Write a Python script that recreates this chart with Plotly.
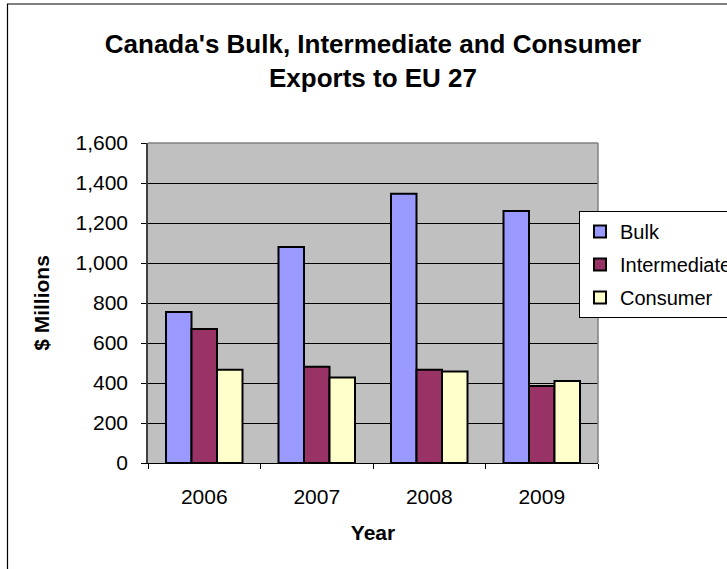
import plotly.graph_objects as go

years = ["2006", "2007", "2008", "2009"]
bulk = [755, 1080, 1346, 1260]
intermediate = [670, 481, 466, 385]
consumer = [466, 428, 458, 410]

series_names = ["Bulk", "Intermediate", "Consumer"]
series_colors = ["#9999FF", "#993366", "#FFFFCC"]
series_values = [bulk, intermediate, consumer]

W, H = 727, 569
L, R, T, B = 148, 129, 143, 106
pw, ph = W - L - R, H - T - B

def px_to_paper_x(px):
    return (px - L) / pw

def px_to_paper_y(py):
    return (H - B - py) / ph

FONT = "Arial, 'Liberation Sans', sans-serif"

fig = go.Figure()
for i, (name, vals, col) in enumerate(zip(series_names, series_values, series_colors)):
    fig.add_trace(go.Bar(
        x=years, y=vals, name=name,
        marker=dict(color=col, line=dict(color="black", width=2)),
        legendgroup=name,
    ))

fig.update_layout(
    width=W, height=H,
    margin=dict(l=L, r=R, t=T, b=B, autoexpand=False),
    paper_bgcolor="white",
    plot_bgcolor="#C0C0C0",
    barmode="group",
    bargap=0.32,
    bargroupgap=0,
    font=dict(family=FONT, size=21, color="black"),
    title=dict(
        text="<b>Canada's Bulk, Intermediate and Consumer<br>Exports to EU 27</b>",
        x=0.5, xref="paper", xanchor="center",
        y=1 - 53 / H, yref="container", yanchor="top",
        font=dict(family=FONT, size=26, color="black"),
    ),
    legend=dict(
        x=px_to_paper_x(579), xanchor="left",
        y=px_to_paper_y(211), yanchor="top",
        bgcolor="white", bordercolor="black", borderwidth=1,
        font=dict(family=FONT, size=20, color="black"),
        tracegroupgap=4,
        itemwidth=30,
    ),
    showlegend=True,
)

fig.update_xaxes(
    type="category",
    tickson="boundaries",
    ticks="outside", ticklen=5, tickcolor="black", tickwidth=1,
    showline=True, linecolor="black", linewidth=1,
    showgrid=False,
    ticklabelstandoff=15,
    title=dict(text="<b>Year</b>", font=dict(family=FONT, size=21), standoff=18),
    tickfont=dict(family=FONT, size=21),
)
fig.update_yaxes(
    range=[0, 1600], dtick=200, tick0=0,
    tickformat=",",
    ticks="outside", ticklen=5, tickcolor="black", tickwidth=1,
    showline=True, linecolor="#404040", linewidth=1.5,
    showgrid=True, gridcolor="black", gridwidth=1,
    zeroline=False,
    ticklabelstandoff=9,
    title=dict(text="<b>$ Millions</b>", font=dict(family=FONT, size=21), standoff=20),
    tickfont=dict(family=FONT, size=21),
)

# plot area border (top & right in gray)
fig.add_shape(type="line", xref="paper", yref="paper", x0=0, x1=1, y0=1, y1=1,
              line=dict(color="#808080", width=1.5))
fig.add_shape(type="line", xref="paper", yref="paper", x0=1, x1=1, y0=0, y1=1,
              line=dict(color="#808080", width=1.5))
# outer chart border
fig.add_shape(type="rect", xref="paper", yref="paper",
              x0=px_to_paper_x(7.5), x1=px_to_paper_x(740),
              y0=px_to_paper_y(580), y1=px_to_paper_y(4),
              line=dict(color="black", width=1.2), fillcolor="rgba(0,0,0,0)", layer="above")

fig.write_html("out.html",
               config={"displayModeBar": False},
               post_script="document.body.style.margin='0';document.body.style.overflow='hidden';")
